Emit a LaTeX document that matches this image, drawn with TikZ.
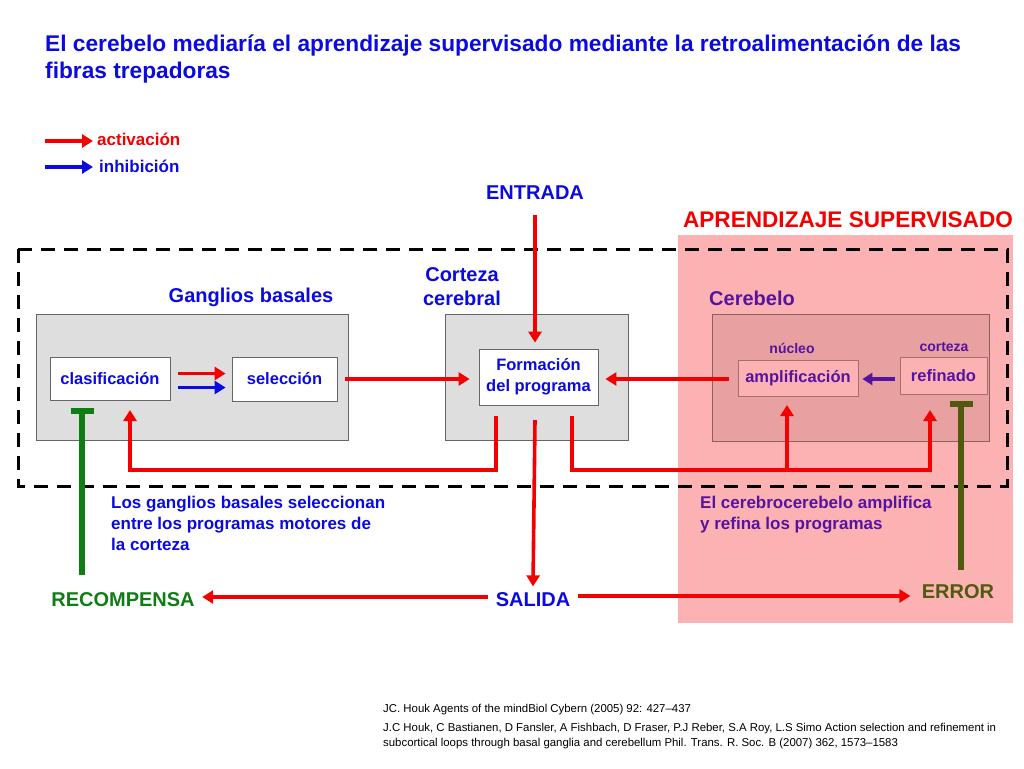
\documentclass[tikz,border=0pt]{standalone}
\usepackage{fontspec}
\setmainfont{Liberation Sans}
\usetikzlibrary{arrows.meta,calc}
\definecolor{tblue}{RGB}{10,10,225}
\definecolor{tred}{RGB}{245,0,0}
\definecolor{tpurple}{RGB}{85,20,160}
\definecolor{tgreen}{RGB}{15,125,20}
\definecolor{tolive}{RGB}{80,90,15}
\definecolor{pinkbg}{RGB}{252,178,178}
\definecolor{pinkbox}{RGB}{232,160,160}
\definecolor{graybox}{RGB}{222,222,222}
\tikzset{
  every node/.style={font=\bfseries},
  ra/.style={draw=tred, line width=3.6pt, -{Triangle[length=11pt,width=13pt]}},
  rl/.style={draw=tred, line width=3.6pt},
  ba/.style={draw=tblue, line width=3.6pt, -{Triangle[length=11pt,width=13pt]}},
  pa/.style={draw=tpurple, line width=3.6pt, -{Triangle[length=10pt,width=12pt]}},
  region/.style={draw=gray!80!black, line width=0.8pt, fill=graybox},
  inbox/.style={draw=gray!80!black, line width=0.8pt, fill=white, align=center, text=tblue, font=\bfseries\fontsize{16.5}{19}\selectfont},
  cbox/.style={draw=pinkbox!70!black, line width=0.8pt, fill=pinkbg, align=center, text=tpurple, font=\bfseries\fontsize{16.5}{19}\selectfont},
  lbl/.style={font=\bfseries\fontsize{20}{24}\selectfont},
  note/.style={font=\bfseries\fontsize{17}{21}\selectfont, align=left, anchor=north west, inner sep=0pt},
  refs/.style={font=\fontsize{11.4}{15}\selectfont, align=left, anchor=north west, inner sep=0pt},
}
\begin{document}
\begin{tikzpicture}[x=1pt,y=-1pt]
\useasboundingbox (0,0) rectangle (1024,768);
% title
\node[anchor=north west, inner sep=0pt, align=left, text=tblue, font=\bfseries\fontsize{22.7}{27}\selectfont] (title) at (45,35)
 {El cerebelo mediaría el aprendizaje supervisado mediante la retroalimentación de las\\fibras trepadoras};
% legend
\coordinate (la1) at (45,141); \coordinate (la2) at (93,141);
\draw[ra] (la1) -- (la2);
\node[anchor=west, text=tred, font=\bfseries\fontsize{17}{20}\selectfont, inner sep=0pt] (lact) at (97,139) {activación};
\coordinate (lb1) at (45,167); \coordinate (lb2) at (93,167);
\draw[ba] (lb1) -- (lb2);
\node[anchor=west, text=tblue, font=\bfseries\fontsize{17}{20}\selectfont, inner sep=0pt] (linh) at (99,166) {inhibición};
% pink area
\fill[pinkbg] (678,235) rectangle (1013,623);
\node[text=tred, font=\bfseries\fontsize{22.6}{26}\selectfont] (apr) at (848,220) {APRENDIZAJE SUPERVISADO};
% dashed
\draw[black, line width=3pt, dash pattern=on 14pt off 9pt] (18,249) rectangle (1007,486);
% regions
\draw[region] (36,314) rectangle (348,440);
\draw[region] (445,314) rectangle (628,440);
\draw[draw=pinkbox!60!black, line width=0.8pt, fill=pinkbox] (712,314) rectangle (989,441);
\node[lbl, text=tblue] (gbt) at (251,297) {Ganglios basales};
\node[lbl, text=tblue, align=center, font=\bfseries\fontsize{20}{24}\selectfont] (cct) at (462,287) {Corteza\\cerebral};
\node[lbl, text=tpurple, anchor=west, inner sep=0pt] (cbt) at (709,298) {Cerebelo};
% inner boxes
\node[inbox, minimum width=120pt, minimum height=43pt] (clas) at (110,378.5) {clasificación};
\node[inbox, minimum width=105pt, minimum height=44pt] (sel) at (284.5,379) {selección};
\node[inbox, minimum width=119pt, minimum height=56pt, font=\bfseries\fontsize{16.5}{21}\selectfont] (form) at (538.5,377) {Formación\\del programa};
\node[cbox, minimum width=120pt, minimum height=36pt] (amp) at (798,378) {amplificación};
\node[cbox, minimum width=87pt, minimum height=37pt] (ref) at (943.5,375.5) {refinado};
\node[text=tpurple, font=\bfseries\fontsize{14}{16}\selectfont] (nuc) at (792,348) {núcleo};
\node[text=tpurple, font=\bfseries\fontsize{14}{16}\selectfont] (cor) at (944,347) {corteza};
% arrows inside
\draw[ra] ($(clas.east)+(8,-5)$) -- ($(sel.west |- clas.east)+(-6,-5)$);
\draw[ba] ($(clas.east)+(8,9)$) -- ($(sel.west |- clas.east)+(-6,9)$);
\draw[ra] ($(sel.east)+(8,0)$) -- ($(form.west |- sel.east)+(-9,0)$);
\draw[ra] ($(amp.west)+(-9,1)$) -- ($(form.east |- amp.west)+(7,1)$);
\draw[pa] ($(ref.west)+(-5,3.5)$) -- ($(amp.east |- ref.west)+(4,3.5)$);
% entrada
\node[lbl, text=tblue] (entrada) at (535,193) {ENTRADA};
\draw[ra] ($(entrada.south)+(0,12)$) -- ($(entrada.south |- form.north)+(0,-6)$);
% bottom loops
\coordinate (fl) at (496,416);
\coordinate (fc) at (535,420);
\coordinate (fr) at (572,416);
\coordinate (gbup) at (130,410);
\coordinate (ampup) at (787,405);
\coordinate (refup) at (930,410);
\draw[ra] (fl) -- (496,470) -- (130,470) -- (gbup);
\draw[rl] (fr) -- (572,470) -- (930,470);
\draw[ra] (930,471.8) -- (refup);
\draw[ra] (787,471.8) -- (ampup);
% bottom labels
\node[lbl, text=tblue] (salida) at (533,600) {SALIDA};
\node[lbl, text=tgreen] (rec) at (123,600) {RECOMPENSA};
\node[lbl, text=tolive] (err) at (958,592) {ERROR};
\draw[ra] (fc) -- ($(salida.north)+(0,-3)$);
\draw[ra] ($(salida.west)+(-4,-3)$) -- ($(rec.east |- salida.west)+(4,-3)$);
\draw[ra] ($(salida.east)+(4,-4)$) -- ($(err.west |- salida.east)+(-8,-4)$);
% T connectors
\coordinate (gT) at (82,411);
\draw[tgreen, line width=6pt] (82,575) -- (gT);
\draw[tgreen, line width=6pt] (71,411) -- (94,411);
\coordinate (oT) at (961,404);
\draw[tolive, line width=6pt] (961,570) -- (oT);
\draw[tolive, line width=6pt] (949.5,404) -- (972.5,404);
% notes
\node[note, text=tblue] (n1) at (111,496) {Los ganglios basales seleccionan\\entre los programas motores de\\la corteza};
\node[note, text=tpurple] (n2) at (700,496) {El cerebrocerebelo amplifica\\y refina los programas};
% references
\node[refs] (r1) at (383,704) {JC. Houk Agents of the mindBiol Cybern (2005) 92: 427–437};
\node[refs] (r2) at (383,723) {J.C Houk, C Bastianen, D Fansler, A Fishbach, D Fraser, P.J Reber, S.A Roy, L.S Simo Action selection and refinement in\\subcortical loops through basal ganglia and cerebellum Phil. Trans. R. Soc. B (2007) 362, 1573–1583};
\end{tikzpicture}
\end{document}
